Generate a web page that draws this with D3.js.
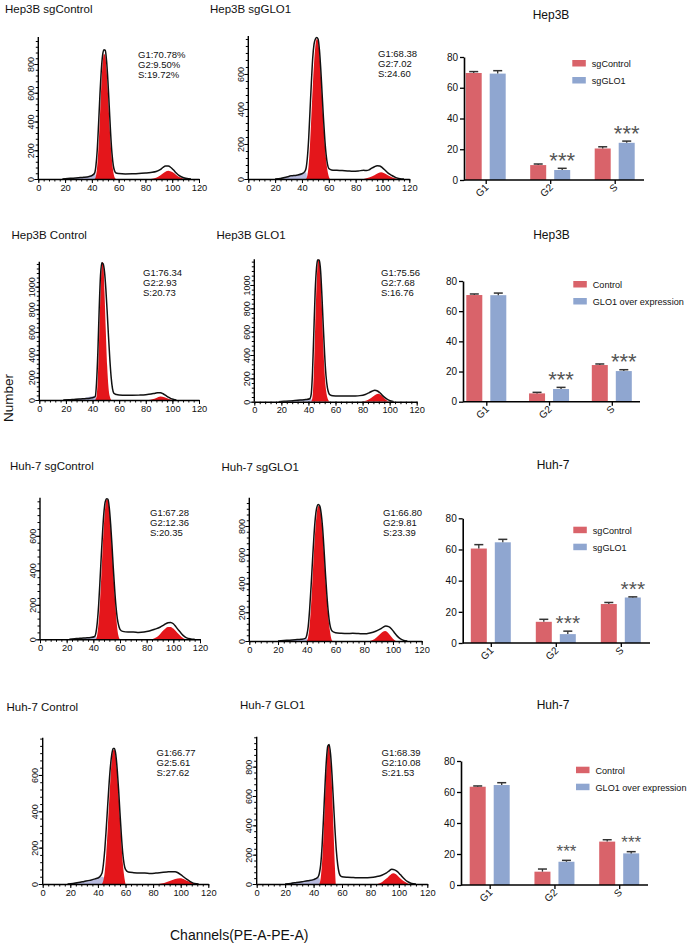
<!DOCTYPE html>
<html><head><meta charset="utf-8">
<script src="https://cdn.jsdelivr.net/npm/d3@7"></script>
<style>body{margin:0;background:#fff}svg{display:block;font-family:"Liberation Sans",Arial,sans-serif}</style>
</head><body><svg id="c" width="688" height="944"></svg>
<script>
// ---------------- DATA ----------------
const channelTicks = [0, 20, 40, 60, 80, 100, 120];
const phaseCats = ["G1", "G2", "S"];
const barTicks = [0, 20, 40, 60, 80];

// Labelled count ticks for each histogram
const p1YTicks = [0, 200, 400, 600, 800];
const p2YTicks = [0, 200, 400, 600];
const p3YTicks = [0, 200, 400, 600, 800, 1000];
const p4YTicks = [0, 200, 400, 600, 800, 1000];
const p5YTicks = [0, 200, 400, 600];
const p6YTicks = [0, 200, 400, 600, 800];
const p7YTicks = [0, 200, 400, 600];
const p8YTicks = [0, 200, 400, 600, 800];

// Histogram curves: [channel, count]
const p1Outline = [[18,0],[22,3],[26,6],[30,9],[34,12],[38,18],[40,24],[42,40],[43,90],[44,200],[45,380],[46,580],[47,750],[48,860],[49,900],[50,895],[51,820],[52,680],[53,500],[54,320],[55,180],[56,95],[57,55],[58,42],[60,38],[65,35],[70,36],[75,38],[80,42],[84,46],[88,52],[91,65],[93,80],[95,90],[97,90],[99,80],[101,62],[103,42],[105,25],[108,10],[111,3],[114,0]];
const p1G1 = [[42,0],[43,20],[44,90],[45,230],[46,430],[47,640],[48,800],[49,870],[50,860],[51,760],[52,600],[53,420],[54,250],[55,130],[56,50],[57,10],[58,0]];
const p1G2 = [[84,0],[88,8],[91,25],[94,45],[97,57],[100,48],[103,28],[106,10],[109,0]];
const p1Debris = [[20,0],[25,4],[30,8],[35,14],[40,24],[42,38],[44,0]];

const p2Outline = [[20,0],[24,3],[28,10],[32,18],[36,22],[40,30],[42,42],[43,60],[44,120],[45,230],[46,390],[47,550],[48,690],[49,770],[50,800],[51,808],[52,800],[53,740],[54,630],[55,490],[56,350],[57,230],[58,140],[59,85],[60,60],[62,52],[66,50],[70,48],[74,46],[78,44],[82,46],[86,50],[88,48],[90,52],[92,62],[94,70],[96,76],[98,74],[100,64],[102,50],[104,35],[107,20],[110,8],[113,2],[116,0]];
const p2G1 = [[43,0],[44,20],[45,80],[46,200],[47,360],[48,520],[49,660],[50,760],[51,800],[52,790],[53,720],[54,600],[55,460],[56,320],[57,200],[58,110],[59,50],[60,15],[61,0]];
const p2G2 = [[86,0],[90,8],[94,22],[97,34],[99,38],[101,34],[104,22],[107,10],[110,3],[112,0]];
const p2Debris = [[22,0],[26,5],[30,12],[34,18],[38,26],[41,34],[43,38],[44,0]];

const p3Outline = [[18,0],[22,2],[26,5],[30,8],[34,12],[38,16],[41,24],[42,30],[43,150],[44,420],[45,800],[46,1100],[47,1210],[48,1200],[49,1130],[50,980],[51,780],[52,560],[53,360],[54,200],[55,100],[56,60],[58,48],[60,44],[65,42],[70,42],[75,43],[80,46],[84,52],[87,60],[89,65],[91,64],[93,55],[95,40],[97,25],[99,12],[101,5],[103,0]];
const p3G1 = [[42,0],[43,30],[44,200],[45,560],[46,950],[47,1190],[47.6,1220],[48.2,1190],[49,950],[50,600],[51,300],[52,110],[53,30],[54,0]];
const p3G2 = [[82,0],[85,6],[88,18],[91,30],[94,25],[97,12],[100,0]];
const p3Debris = [[20,0],[25,6],[30,12],[35,20],[40,32],[42,28],[43,0]];

const p4Outline = [[18,0],[22,3],[26,6],[30,10],[34,14],[38,18],[41,25],[42,60],[43,250],[44,600],[45,950],[46,1150],[47,1220],[48,1210],[49,1120],[50,900],[51,640],[52,400],[53,220],[54,120],[55,75],[56,58],[58,50],[62,48],[66,48],[70,48],[74,49],[78,52],[82,62],[85,78],[87,90],[89,98],[91,92],[93,74],[95,50],[97,30],[99,15],[101,6],[103,0]];
const p4G1 = [[42,0],[43,40],[44,250],[45,650],[46,1000],[47,1200],[47.8,1220],[48.5,1180],[49,1080],[50,800],[51,480],[52,240],[53,100],[54,35],[55,8],[56,0]];
const p4G2 = [[79,0],[83,10],[86,30],[89,55],[91.5,68],[94,55],[96,30],[98,10],[100,0]];
const p4Debris = [[20,0],[25,6],[30,12],[35,18],[40,24],[42,26],[43,0]];

const p5Outline = [[22,0],[26,3],[30,6],[34,8],[38,10],[41,16],[42,40],[43,100],[44,200],[45,340],[46,490],[47,630],[48,740],[49,800],[50,815],[51,812],[52,760],[53,665],[54,545],[55,410],[56,290],[57,190],[58,120],[59,80],[60,58],[62,46],[66,42],[70,42],[74,40],[78,42],[82,48],[86,58],[90,70],[93,84],[96,96],[98,98],[100,90],[102,72],[104,52],[106,34],[108,18],[110,8],[113,2],[116,0]];
const p5G1 = [[42,0],[43,30],[44,100],[45,220],[46,370],[47,530],[48,670],[49,770],[50,812],[51,808],[52,755],[53,655],[54,530],[55,390],[56,260],[57,150],[58,60],[59,15],[60,0]];
const p5G2 = [[84,0],[87,10],[90,30],[93,55],[96,72],[98,72],[100,62],[103,38],[106,15],[109,0]];
const p5Debris = [[24,0],[28,3],[32,6],[36,9],[40,12],[42,14],[43,0]];

const p6Outline = [[20,0],[24,3],[28,6],[32,9],[36,12],[39,18],[40,40],[41,100],[42,220],[43,380],[44,560],[45,730],[46,860],[47,930],[48,950],[49,940],[50,890],[51,790],[52,640],[53,470],[54,320],[55,200],[56,120],[57,80],[58,66],[60,58],[64,54],[68,52],[72,54],[76,52],[80,50],[84,56],[88,68],[91,82],[93,95],[95,104],[97,100],[99,84],[101,58],[103,34],[105,16],[107,6],[110,0]];
const p6G1 = [[40,0],[41,30],[42,110],[43,250],[44,430],[45,620],[46,780],[47,890],[48,940],[49,935],[50,870],[51,760],[52,610],[53,440],[54,290],[55,170],[56,80],[57,20],[58,0]];
const p6G2 = [[84,0],[87,12],[90,38],[93,65],[94.5,70],[96,62],[98,40],[100,16],[102,0]];
const p6Debris = [[22,0],[26,4],[30,8],[34,12],[38,16],[40,20],[41,0]];

const p7Outline = [[18,0],[22,3],[26,8],[30,14],[34,20],[38,28],[41,38],[43,60],[44,110],[45,190],[46,300],[47,420],[48,540],[49,640],[50,710],[51,745],[52,745],[53,710],[54,630],[55,520],[56,390],[57,270],[58,170],[59,110],[60,80],[62,66],[66,62],[70,60],[74,60],[78,58],[82,60],[86,63],[90,66],[93,68],[96,68],[98,62],[100,52],[102,40],[104,28],[106,18],[108,9],[110,3],[113,0]];
const p7G1 = [[43,0],[44,20],[45,70],[46,160],[47,290],[48,430],[49,570],[50,680],[51,735],[52,740],[53,700],[54,610],[55,490],[56,360],[57,230],[58,120],[59,45],[60,0]];
const p7G2 = [[84,0],[88,6],[92,16],[96,27],[99.5,31],[103,24],[106,14],[109,5],[111,0]];
const p7Debris = [[20,0],[24,4],[28,10],[32,16],[36,24],[40,32],[43,40],[44,38],[45,0]];

const p8Outline = [[20,0],[24,4],[28,10],[32,16],[36,22],[40,30],[43,46],[44,70],[45,130],[46,260],[47,450],[48,660],[49,840],[50,940],[51,950],[52,880],[53,740],[54,560],[55,380],[56,230],[57,130],[58,75],[59,55],[60,50],[64,46],[68,44],[72,42],[76,42],[80,44],[84,50],[88,60],[91,74],[93,88],[95,100],[97,96],[99,84],[101,64],[103,42],[105,24],[107,12],[109,4],[112,0]];
const p8G1 = [[44,0],[45,40],[46,150],[47,330],[48,560],[49,780],[50,920],[50.5,948],[51,935],[52,840],[53,650],[54,380],[55,120],[55.6,0]];
const p8G2 = [[85,0],[88,12],[91,35],[94,62],[96,73],[98,66],[100,48],[103,22],[106,5],[107,0]];
const p8Debris = [[20,0],[24,5],[28,12],[32,18],[36,26],[40,34],[43,44],[44,42],[45,0]];

// Cell-cycle percentages printed on the histograms
const p1Stats = ["G1:70.78%", "G2:9.50%", "S:19.72%"];
const p2Stats = ["G1:68.38", "G2:7.02", "S:24.60"];
const p3Stats = ["G1:76.34", "G2:2.93", "S:20.73"];
const p4Stats = ["G1:75.56", "G2:7.68", "S:16.76"];
const p5Stats = ["G1:67.28", "G2:12.36", "S:20.35"];
const p6Stats = ["G1:66.80", "G2:9.81", "S:23.39"];
const p7Stats = ["G1:66.77", "G2:5.61", "S:27.62"];
const p8Stats = ["G1:68.39", "G2:10.08", "S:21.53"];

// Bar charts (mean, error)
const hep3bSgControl = [69.6, 9.7, 20.5];
const hep3bSgControlErr = [0.9, 0.7, 1.1];
const hep3bSgGLO1 = [69.2, 6.5, 24.2];
const hep3bSgGLO1Err = [1.9, 1.1, 1.1];
const hep3bControl = [70.7, 5.5, 24.3];
const hep3bControlErr = [0.7, 0.7, 0.7];
const hep3bGLO1 = [70.6, 8.4, 20.3];
const hep3bGLO1Err = [1.4, 1.1, 0.9];
const huh7SgControl = [60.6, 13.6, 25.0];
const huh7SgControlErr = [2.5, 1.6, 1.0];
const huh7SgGLO1 = [64.6, 5.7, 29.2];
const huh7SgGLO1Err = [1.9, 1.9, 0.4];
const huh7Control = [63.4, 8.6, 28.0];
const huh7ControlErr = [0.5, 1.7, 1.2];
const huh7GLO1 = [64.5, 15.0, 20.4];
const huh7GLO1Err = [1.5, 0.9, 1.1];
const sigStars = ["", "***", "***"];

// ---------------- DRAW ----------------
const RED = "#e4161b", LAV = "#b9bbdf", BAR_RED = "#d9636a", BAR_BLUE = "#8fa6d0";
const FONT = "Liberation Sans, Arial, sans-serif";
const svg = d3.select("#c");

const hists = [
  {title:"Hep3B sgControl", tx:5, ty:12.5, x0:38.3, x1:199, y0:179, yTop:37, ymax:988, yTicks:p1YTicks, outline:p1Outline, g1:p1G1, g2:p1G2, debris:p1Debris, stats:p1Stats, sx:138, sy:54},
  {title:"Hep3B sgGLO1", tx:210, ty:12.5, x0:248.3, x1:409.3, y0:179, yTop:36, ymax:817, yTicks:p2YTicks, outline:p2Outline, g1:p2G1, g2:p2G2, debris:p2Debris, stats:p2Stats, sx:378, sy:53.5},
  {title:"Hep3B Control", tx:11.5, ty:239, x0:39.3, x1:199, y0:400, yTop:261.7, ymax:1220, yTicks:p3YTicks, outline:p3Outline, g1:p3G1, g2:p3G2, debris:p3Debris, stats:p3Stats, sx:143, sy:272},
  {title:"Hep3B GLO1", tx:216.5, ty:239, x0:254.3, x1:416.7, y0:401.7, yTop:259.3, ymax:1220, yTicks:p4YTicks, outline:p4Outline, g1:p4G1, g2:p4G2, debris:p4Debris, stats:p4Stats, sx:381, sy:272.5},
  {title:"Huh-7 sgControl", tx:10, ty:470, x0:40, x1:200, y0:639.3, yTop:497.7, ymax:821, yTicks:p5YTicks, outline:p5Outline, g1:p5G1, g2:p5G2, debris:p5Debris, stats:p5Stats, sx:150, sy:512.5},
  {title:"Huh-7 sgGLO1", tx:221.5, ty:470.5, x0:249.3, x1:421.7, y0:641, yTop:497.7, ymax:997, yTicks:p6YTicks, outline:p6Outline, g1:p6G1, g2:p6G2, debris:p6Debris, stats:p6Stats, sx:383, sy:512.5},
  {title:"Huh-7 Control", tx:6.5, ty:711, x0:42.7, x1:208.3, y0:884, yTop:737.7, ymax:805, yTicks:p7YTicks, outline:p7Outline, g1:p7G1, g2:p7G2, debris:p7Debris, stats:p7Stats, sx:156.5, sy:752.5},
  {title:"Huh-7 GLO1", tx:240, ty:709, x0:256.7, x1:427.3, y0:884, yTop:736.7, ymax:1004, yTicks:p8YTicks, outline:p8Outline, g1:p8G1, g2:p8G2, debris:p8Debris, stats:p8Stats, sx:381.5, sy:752}
];

hists.forEach((p, i) => {
  const x = d3.scaleLinear().domain([0, 120]).range([p.x0, p.x1]);
  const y = d3.scaleLinear().domain([0, p.ymax]).range([p.y0, p.yTop]);
  svg.append("clipPath").attr("id", "hc" + i).append("rect")
    .attr("x", p.x0).attr("y", p.yTop).attr("width", p.x1 - p.x0).attr("height", p.y0 - p.yTop);
  const plot = svg.append("g").attr("clip-path", `url(#hc${i})`);
  const area = d3.area().x(d => x(d[0])).y0(y(0)).y1(d => y(d[1])).curve(d3.curveMonotoneX);
  const line = d3.line().x(d => x(d[0])).y(d => y(d[1])).curve(d3.curveMonotoneX);
  plot.append("path").datum(p.debris).attr("d", area).attr("fill", LAV);
  plot.append("path").datum(p.g1).attr("d", area).attr("fill", RED);
  plot.append("path").datum(p.g2).attr("d", area).attr("fill", RED);
  plot.append("path").datum(p.outline).attr("d", line).attr("fill", "none")
    .attr("stroke", "#111").attr("stroke-width", 1.5).attr("stroke-linejoin", "round");

  // x axis
  const xMinor = d3.range(0, 121, 4);
  svg.append("g").attr("transform", `translate(0,${p.y0})`)
    .call(d3.axisBottom(x).tickValues(xMinor).tickSize(2.5).tickFormat(""))
    .call(g => g.select(".domain").remove());
  const gx = svg.append("g").attr("transform", `translate(0,${p.y0})`)
    .call(d3.axisBottom(x).tickValues(channelTicks).tickSize(4).tickSizeOuter(0).tickPadding(1));
  gx.select(".domain").attr("stroke-width", 1.4);
  gx.selectAll("text").attr("font-size", 9.3).attr("font-family", FONT).attr("fill", "#111");

  // y axis
  const yMinor = d3.range(0, p.ymax + 1, 40);
  svg.append("g").attr("transform", `translate(${p.x0},0)`)
    .call(d3.axisLeft(y).tickValues(yMinor).tickSize(2.5).tickFormat(""))
    .call(g => g.select(".domain").remove());
  const gy = svg.append("g").attr("transform", `translate(${p.x0},0)`)
    .call(d3.axisLeft(y).tickValues(p.yTicks).tickFormat(d3.format("d")).tickSize(4).tickSizeOuter(0));
  gy.select(".domain").attr("stroke-width", 1.4)
    .attr("d", `M0,${p.y0}V${p.yTop}`);
  gy.selectAll("text").attr("font-size", 9).attr("font-family", FONT).attr("fill", "#111")
    .attr("text-anchor", "middle").attr("dy", null).attr("x", 0).attr("y", -4.5)
    .attr("transform", "rotate(-90)");

  // title
  svg.append("text").attr("x", p.tx).attr("y", p.ty).attr("font-size", 11.5).attr("fill", "#111").text(p.title);
  // stats
  svg.append("g").selectAll("text").data(p.stats).join("text")
    .attr("x", p.sx).attr("y", (d, k) => p.sy + 3.5 + k * 10)
    .attr("font-size", 9.5).attr("fill", "#111").text(d => d);
});

// ---------- bar charts ----------
const bars = [
  {title:"Hep3B", tcx:551, ty:19, ax:464, y0:180, yTop:57, xEnd:644, c0:485.7, c2:614.7, a:hep3bSgControl, aErr:hep3bSgControlErr, b:hep3bSgGLO1, bErr:hep3bSgGLO1Err, labels:["sgControl","sgGLO1"], lx:572.3, ly:60, starSize:22},
  {title:"Hep3B", tcx:551.5, ty:239, ax:463, y0:401.7, yTop:281, xEnd:640, c0:486.3, c2:611.8, a:hep3bControl, aErr:hep3bControlErr, b:hep3bGLO1, bErr:hep3bGLO1Err, labels:["Control","GLO1 over expression"], lx:573.3, ly:281, starSize:22},
  {title:"Huh-7", tcx:553, ty:469, ax:462.7, y0:643, yTop:518.3, xEnd:650, c0:490.8, c2:620.8, a:huh7SgControl, aErr:huh7SgControlErr, b:huh7SgGLO1, bErr:huh7SgGLO1Err, labels:["sgControl","sgGLO1"], lx:573.3, ly:526.7, starSize:21},
  {title:"Huh-7", tcx:553, ty:709, ax:461, y0:885, yTop:761, xEnd:648, c0:489.7, c2:619.2, a:huh7Control, aErr:huh7ControlErr, b:huh7GLO1, bErr:huh7GLO1Err, labels:["Control","GLO1 over expression"], lx:576, ly:766.7, starSize:17}
];

bars.forEach(c => {
  const x = d3.scalePoint().domain(phaseCats).range([c.c0, c.c2]);
  const y = d3.scaleLinear().domain([0, 80]).range([c.y0, c.yTop]);
  const g = svg.append("g");
  const series = [
    {vals:c.a, err:c.aErr, off:-20, color:BAR_RED},
    {vals:c.b, err:c.bErr, off:4, color:BAR_BLUE}
  ];
  series.forEach(s => {
    const rows = phaseCats.map((k, i) => ({k, v:s.vals[i], e:s.err[i]}));
    g.append("g").selectAll("rect").data(rows).join("rect")
      .attr("x", d => x(d.k) + s.off).attr("width", 16)
      .attr("y", d => y(d.v)).attr("height", d => y(0) - y(d.v))
      .attr("fill", s.color);
    const eb = g.append("g").selectAll("g").data(rows).join("g");
    eb.append("line")
      .attr("x1", d => x(d.k) + s.off + 8).attr("x2", d => x(d.k) + s.off + 8)
      .attr("y1", d => y(d.v)).attr("y2", d => y(d.v + d.e))
      .attr("stroke", "#333").attr("stroke-width", 1.3);
    eb.append("line")
      .attr("x1", d => x(d.k) + s.off + 3.5).attr("x2", d => x(d.k) + s.off + 12.5)
      .attr("y1", d => y(d.v + d.e)).attr("y2", d => y(d.v + d.e))
      .attr("stroke", "#333").attr("stroke-width", 1.5);
  });
  // significance stars over treatment bars
  g.append("g").selectAll("text").data(phaseCats.map((k, i) => ({k, s:sigStars[i], top:c.b[i] + c.bErr[i]}))).join("text")
    .attr("x", d => x(d.k) + 12).attr("y", d => y(d.top) - 13 + c.starSize * 0.57)
    .attr("text-anchor", "middle").attr("font-size", c.starSize).attr("fill", "#555")
    .text(d => d.s);

  // axes
  const gy = svg.append("g").attr("transform", `translate(${c.ax},0)`)
    .call(d3.axisLeft(y).tickValues(barTicks).tickSize(4).tickSizeOuter(0).tickPadding(2));
  gy.select(".domain").attr("stroke-width", 1.6);
  gy.selectAll("line").attr("stroke-width", 1.3);
  gy.selectAll("text").attr("font-size", 10).attr("font-family", FONT).attr("fill", "#111");
  svg.append("line").attr("x1", c.ax).attr("x2", c.xEnd).attr("y1", c.y0).attr("y2", c.y0)
    .attr("stroke", "#000").attr("stroke-width", 1.6);
  const gx = svg.append("g").attr("transform", `translate(0,${c.y0})`)
    .call(d3.axisBottom(x).tickSize(4).tickSizeOuter(0));
  gx.select(".domain").remove();
  gx.selectAll("line").attr("stroke-width", 1.3);
  gx.selectAll("text").attr("font-size", 10).attr("font-family", FONT).attr("fill", "#111")
    .attr("text-anchor", "end").attr("dy", null).attr("y", 0)
    .attr("transform", "translate(3,8) rotate(-45)");

  // title
  svg.append("text").attr("x", c.tcx).attr("y", c.ty).attr("text-anchor", "middle")
    .attr("font-size", 12).attr("fill", "#111").text(c.title);
  // legend
  const lg = svg.append("g");
  [BAR_RED, BAR_BLUE].forEach((col, i) => {
    lg.append("rect").attr("x", c.lx).attr("y", c.ly + i * 17).attr("width", 13.5).attr("height", 6.5).attr("fill", col);
    lg.append("text").attr("x", c.lx + 19.5).attr("y", c.ly + i * 17 + 7)
      .attr("font-size", 9.1).attr("fill", "#111").text(c.labels[i]);
  });
});

// shared axis titles
svg.append("text").attr("transform", "translate(13,398) rotate(-90)").attr("text-anchor", "middle")
  .attr("font-size", 13.5).attr("fill", "#111").text("Number");
svg.append("text").attr("x", 170).attr("y", 940).attr("font-size", 14).attr("fill", "#111").text("Channels(PE-A-PE-A)");
</script></body></html>
